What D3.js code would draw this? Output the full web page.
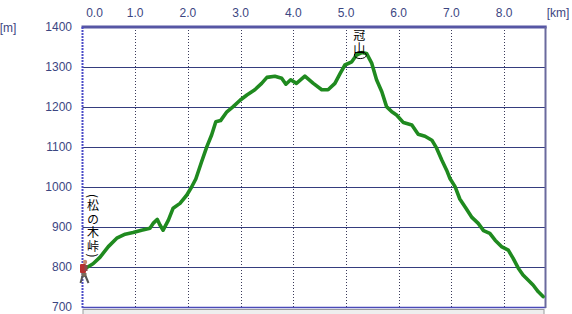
<!DOCTYPE html>
<html><head><meta charset="utf-8">
<script src="https://cdn.jsdelivr.net/npm/d3@7"></script>
<style>html,body{margin:0;padding:0;background:#fff;}svg{display:block;}</style>
</head><body>
<script>
const distKm = [0.06,0.20,0.33,0.49,0.65,0.81,0.96,1.12,1.28,1.34,1.42,1.47,1.53,1.63,1.72,1.85,1.98,2.07,2.15,2.26,2.36,2.45,2.53,2.62,2.74,2.86,2.99,3.12,3.27,3.40,3.50,3.65,3.78,3.86,3.95,4.06,4.22,4.38,4.54,4.66,4.79,4.89,4.98,5.11,5.20,5.30,5.39,5.49,5.58,5.68,5.77,5.87,5.96,6.09,6.25,6.37,6.50,6.63,6.72,6.82,6.91,6.97,7.07,7.16,7.28,7.39,7.51,7.61,7.73,7.83,7.95,8.08,8.17,8.27,8.36,8.46,8.55,8.65,8.74];
const elevM = [797,808,824,851,872,882,886,892,897,909,919,905,892,917,947,959,980,1000,1020,1063,1101,1130,1163,1166,1188,1201,1217,1230,1243,1259,1274,1277,1272,1257,1268,1259,1277,1259,1243,1243,1259,1284,1305,1313,1330,1336,1334,1309,1268,1238,1201,1188,1180,1161,1155,1132,1127,1117,1097,1067,1042,1022,1001,970,946,924,909,891,884,867,851,842,822,797,780,767,755,738,726];
const xTicks = [0,1,2,3,4,5,6,7,8];
const yTicks = [700,800,900,1000,1100,1200,1300,1400];
const xUnit = "[km]", yUnit = "[m]";
const summitName = "冠山", summitKm = 5.30, summitElev = 1336;
const startName = "(松の木峠)";

const W = 572, H = 314;
const svg = d3.select("body").append("svg").attr("width", W).attr("height", H);
const x = d3.scaleLinear().domain([0, 8.79]).range([82.5, 545.7]);
const y = d3.scaleLinear().domain([700, 1400]).range([307, 27]);
const font = "'Liberation Sans', Arial, sans-serif";
const cjk = "'Noto Sans CJK JP', sans-serif";
const txtCol = "#3c4682";

// bottom gray bar
svg.append("rect").attr("x", 83).attr("y", 309.5).attr("width", 461).attr("height", 10)
  .attr("fill", "#eeeeee").attr("stroke", "#9a9a9a").attr("stroke-width", 1);

// horizontal gridlines
svg.append("g").selectAll("line").data(yTicks.slice(1, -1)).join("line")
  .attr("x1", x(0)).attr("x2", x.range()[1]).attr("y1", d => Math.round(y(d)) + 0.5).attr("y2", d => Math.round(y(d)) + 0.5)
  .attr("stroke", "#353d7e").attr("stroke-width", 1);
// vertical dotted gridlines
svg.append("g").selectAll("line").data(xTicks.slice(1)).join("line")
  .attr("x1", d => Math.round(x(d)) + 0.5).attr("x2", d => Math.round(x(d)) + 0.5)
  .attr("y1", y(1400)).attr("y2", y(700))
  .attr("stroke", "#3a3a5a").attr("stroke-width", 1).attr("stroke-dasharray", "1,2");

// frame
svg.append("line").attr("x1", x(0)).attr("x2", x.range()[1]).attr("y1", 307.5).attr("y2", 307.5)
  .attr("stroke", "#4a4ab8").attr("stroke-width", 1.5);
svg.append("line").attr("x1", x(0) - 1).attr("x2", x.range()[1] + 1).attr("y1", 27).attr("y2", 27)
  .attr("stroke", "#5656a4").attr("stroke-width", 3);
svg.append("line").attr("x1", 545.5).attr("x2", 545.5).attr("y1", 27).attr("y2", 308)
  .attr("stroke", "#6a6a9e").attr("stroke-width", 2);
svg.append("line").attr("x1", 82.5).attr("x2", 82.5).attr("y1", 27).attr("y2", 308)
  .attr("stroke", "#4c4cc8").attr("stroke-width", 2).attr("stroke-dasharray", "2,1");

// y labels
svg.append("g").selectAll("text").data(yTicks).join("text")
  .attr("x", 72).attr("y", d => y(d)).attr("dy", "0.36em").attr("text-anchor", "end")
  .attr("font-family", font).attr("font-size", 12).attr("fill", txtCol).text(d => d);
// x labels (first one nudged inside the frame)
svg.append("g").selectAll("text").data(xTicks).join("text")
  .attr("x", d => d === 0 ? x(d) + 12 : x(d)).attr("y", 13).attr("dy", "0.36em").attr("text-anchor", "middle")
  .attr("font-family", font).attr("font-size", 12).attr("fill", txtCol).text(d => d.toFixed(1));
svg.append("text").attr("x", 558).attr("y", 13).attr("dy", "0.36em").attr("text-anchor", "middle")
  .attr("font-family", font).attr("font-size", 12).attr("fill", txtCol).text(xUnit);
svg.append("text").attr("x", 8).attr("y", 28).attr("dy", "0.36em").attr("text-anchor", "middle")
  .attr("font-family", font).attr("font-size", 12).attr("fill", txtCol).text(yUnit);

// profile line
const pts = distKm.map((d, i) => [d, elevM[i]]);
svg.append("path").datum(pts)
  .attr("d", d3.line().x(d => x(d[0])).y(d => y(d[1])))
  .attr("fill", "none").attr("stroke", "#1f8a1f").attr("stroke-width", 3.6)
  .attr("stroke-linejoin", "round").attr("stroke-linecap", "round");

// summit label
const sx = x(summitKm) - 2.5;
svg.append("ellipse").attr("cx", sx + 1).attr("cy", y(summitElev) + 2.5).attr("rx", 6).attr("ry", 3.5)
  .attr("fill", "none").attr("stroke", "#000").attr("stroke-width", 1);
svg.append("text").attr("x", sx).attr("y", 29)
  .style("writing-mode", "vertical-rl").style("text-orientation", "mixed")
  .attr("font-family", cjk).attr("font-size", 12).attr("letter-spacing", 1).attr("fill", "#000").text(summitName);

// start label (vertical)
svg.append("text").attr("x", 93).attr("y", 194)
  .style("writing-mode", "vertical-rl").style("text-orientation", "mixed")
  .attr("font-family", cjk).attr("font-size", 12).attr("letter-spacing", 1.5).attr("fill", "#000").text(startName);

// hiker icon
const hk = svg.append("g").attr("transform", `translate(${x(0) + 1},${y(790)})`);
hk.append("circle").attr("cx", 1.5).attr("cy", -9).attr("r", 2.2).attr("fill", "#c88a70");
hk.append("rect").attr("x", -3.5).attr("y", -7).attr("width", 6).attr("height", 9).attr("rx", 1).attr("fill", "#b83030");
hk.append("rect").attr("x", 1).attr("y", -6).attr("width", 3).attr("height", 6).attr("fill", "#8a4a4a");
hk.append("rect").attr("x", -2).attr("y", 2).attr("width", 5).attr("height", 4).attr("fill", "#7a6a5a");
hk.append("line").attr("x1", -1).attr("y1", 5).attr("x2", -3).attr("y2", 12).attr("stroke", "#555").attr("stroke-width", 2);
hk.append("line").attr("x1", 2).attr("y1", 5).attr("x2", 5).attr("y2", 12).attr("stroke", "#555").attr("stroke-width", 2);
</script>
</body></html>
